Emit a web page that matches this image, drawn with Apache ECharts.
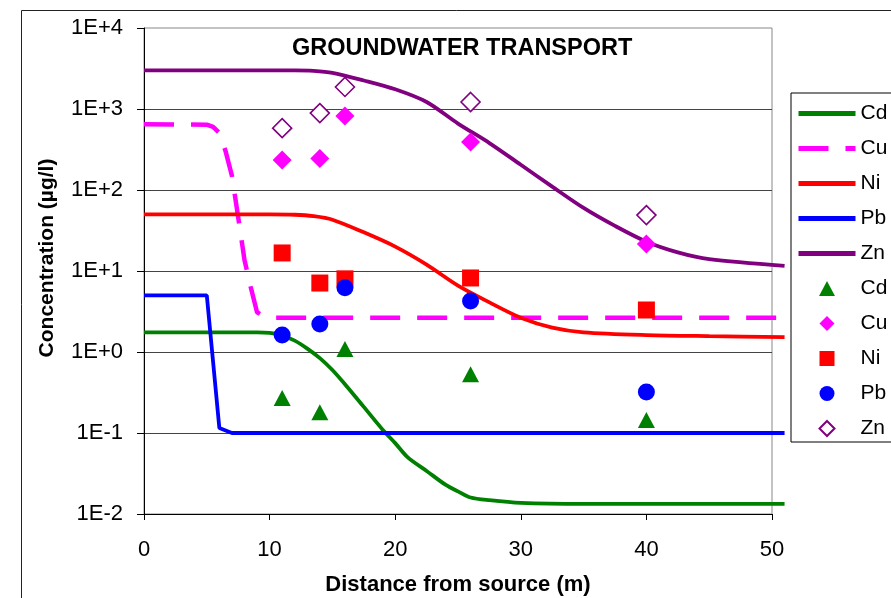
<!DOCTYPE html>
<html>
<head>
<meta charset="utf-8">
<script src="https://cdn.jsdelivr.net/npm/echarts@6/dist/echarts.min.js"></script>
<style>
html,body{margin:0;padding:0;background:#fff;}
#chart{width:891px;height:598px;}
</style>
</head>
<body>
<div id="chart"></div>
<script>
// ---- Data ----
var cdLineX = [0, 5, 9, 10, 11, 12, 13, 14, 15, 16, 17.5, 19, 20, 21, 22.5, 24, 25, 26, 27.5, 30, 35, 40, 45, 51];
var cdLineY = [1.75, 1.75, 1.75, 1.72, 1.6, 1.38, 1.1, 0.84, 0.6, 0.4, 0.21, 0.11, 0.075, 0.05, 0.034, 0.023, 0.019, 0.016, 0.0148, 0.0137, 0.0133, 0.0133, 0.0133, 0.0133];

var cuLineX = [0, 5, 5.5, 6, 6.5, 7, 7.5, 8, 8.5, 9, 9.5, 10, 51];
var cuLineY = [650, 640, 600, 505, 300, 150, 46, 13.7, 6.3, 3.1, 2.8, 2.65, 2.65];

var niLineX = [0, 5, 10, 12, 13.5, 15, 17.5, 20, 22.5, 25, 27.5, 30, 32.5, 35, 40, 45, 51];
var niLineY = [50, 50, 50, 49.5, 47.5, 43, 30, 20, 12, 6.6, 4.1, 2.65, 2.0, 1.75, 1.62, 1.57, 1.53];

var pbLineX = [0, 5, 6, 7, 51];
var pbLineY = [5, 5, 0.115, 0.1, 0.1];

var znLineX = [0, 5, 10, 12, 13.5, 15, 17.5, 20, 22.5, 25, 27.5, 30, 32.5, 35, 37.5, 40, 42.5, 45, 51];
var znLineY = [3000, 3000, 3000, 3000, 2960, 2800, 2250, 1750, 1220, 660, 380, 205, 110, 60, 36, 23, 17, 14, 11.6];

var obsX  = [11, 14, 16, 26, 40];
var cdObs = [0.27, 0.18, 1.09, 0.53, 0.145];
var cuObs = [235, 245, 820, 390, 21.5];
var niObs = [16.7, 7.1, 8.0, 8.2, 3.3];
var pbObs = [1.62, 2.22, 6.2, 4.27, 0.32];
var znObs = [580, 890, 1870, 1220, 49];

var metals = ['Cd', 'Cu', 'Ni', 'Pb', 'Zn'];
var xTicks = [0, 10, 20, 30, 40, 50];
var titleText = 'GROUNDWATER TRANSPORT';
var xTitle = 'Distance from source (m)';
var yTitle = 'Concentration (\u00b5g/l)';

// ---- Build chart ----
function pairs(xs, ys) { return xs.map(function (x, i) { return [x, ys[i]]; }); }

var FONT = 'Liberation Sans, Arial, sans-serif';
var colors = { Cd: '#008000', Cu: '#FF00FF', Ni: '#FF0000', Pb: '#0000FF', Zn: '#800080' };

function lineSeries(name, xs, ys, smooth, lineStyle) {
  return {
    name: name, type: 'line', data: pairs(xs, ys), symbol: 'none', showSymbol: false,
    xAxisIndex: 1, yAxisIndex: 1, smooth: smooth, z: 2,
    lineStyle: lineStyle || { color: colors[name], width: 3.8 }, itemStyle: { color: colors[name] },
    emphasis: { disabled: true }
  };
}
function scatterSeries(name, sym, size, ys, style) {
  style.opacity = 1;
  return {
    name: name + ' ', type: 'scatter', data: pairs(obsX, ys), symbol: sym, symbolSize: size,
    xAxisIndex: 0, yAxisIndex: 0, z: 5, itemStyle: style, emphasis: { disabled: true }
  };
}

var series = [
  lineSeries('Cd', cdLineX, cdLineY, 0.3),
  lineSeries('Cu', cuLineX, cuLineY, false, { color: colors.Cu, width: 4.5, type: [30, 17] }),
  lineSeries('Ni', niLineX, niLineY, 0.3),
  lineSeries('Pb', pbLineX, pbLineY, false),
  lineSeries('Zn', znLineX, znLineY, 0.3),
  scatterSeries('Cd', 'triangle', [17, 16], cdObs, { color: colors.Cd }),
  scatterSeries('Cu', 'diamond', 19, cuObs, { color: colors.Cu }),
  scatterSeries('Ni', 'rect', 17, niObs, { color: colors.Ni }),
  scatterSeries('Pb', 'circle', 17, pbObs, { color: colors.Pb }),
  scatterSeries('Zn', 'diamond', 19, znObs, { color: '#ffffff', borderColor: colors.Zn, borderWidth: 1.6 })
];

var legendIcons = {
  'Cd ': 'path://M8.5,0L17,16L0,16Z',
  'Cu ': 'path://M10,0L20,10L10,20L0,10Z',
  'Ni ': 'path://M0,0H10V10H0Z',
  'Pb ': 'circle',
  'Zn ': 'path://M10,0L20,10L10,20L0,10Z'
};
var legendData = metals.map(function (m) {
  var ls = { width: 5 };
  if (m === 'Cu') ls.type = [30, 17];
  return { name: m, itemStyle: { opacity: 0 }, lineStyle: ls };
}).concat(metals.map(function (m) {
  return { name: m + ' ', icon: legendIcons[m + ' '] };
}));

var PLOT_W = 628;
var chart = echarts.init(document.getElementById('chart'), null, { renderer: 'canvas' });
chart.setOption({
  animation: false,
  backgroundColor: '#ffffff',
  title: {
    text: titleText, left: 292, top: 37, padding: 0,
    textStyle: { fontFamily: FONT, fontWeight: 'bold', fontSize: 23.5, color: '#000' }
  },
  grid: [
    { left: 144, top: 28, width: PLOT_W, height: 486, show: true, borderColor: '#888', borderWidth: 1,
      containLabel: false, outerBoundsMode: 'none' },
    { left: 144, top: 28, width: PLOT_W * 51 / 50, height: 486, show: false,
      containLabel: false, outerBoundsMode: 'none' }
  ],
  legend: {
    data: legendData, orient: 'vertical', left: 791, top: 93,
    padding: [10, 40, 3, 5], itemWidth: 57, itemHeight: 15, itemGap: 14,
    borderColor: '#000', borderWidth: 1, selectedMode: false, symbolKeepAspect: true,
    formatter: function (n) { return n.trim(); },
    textStyle: { fontFamily: FONT, fontSize: 21, color: '#000', lineHeight: 21 }
  },
  xAxis: [{
    type: 'value', min: 0, max: 50, interval: 10, gridIndex: 0,
    name: xTitle, nameLocation: 'middle', nameGap: 60,
    nameTextStyle: { fontFamily: FONT, fontWeight: 'bold', fontSize: 22, color: '#000' },
    axisLine: { show: true, onZero: false, lineStyle: { color: '#000', width: 1 } },
    axisTick: { show: true, length: 6, lineStyle: { color: '#000' } },
    axisLabel: { fontFamily: FONT, fontSize: 22, color: '#000', margin: 25,
      formatter: function (v) { return xTicks.indexOf(v) >= 0 ? String(v) : ''; } },
    splitLine: { show: false }
  }, {
    type: 'value', min: 0, max: 51, gridIndex: 1, show: false
  }],
  yAxis: [{
    type: 'log', logBase: 10, min: 0.01, max: 10000, gridIndex: 0,
    name: yTitle, nameLocation: 'middle', nameGap: 86, nameRotate: 90,
    nameTextStyle: { fontFamily: FONT, fontWeight: 'bold', fontSize: 21, color: '#000', padding: [0, 0, 0, 26] },
    axisLine: { show: true, lineStyle: { color: '#000', width: 1 } },
    axisTick: { show: true, length: 7, lineStyle: { color: '#000' } },
    axisLabel: { fontFamily: FONT, fontSize: 22, color: '#000', margin: 21,
      formatter: function (v) {
        var e = Math.round(Math.log(v) / Math.LN10);
        return '1E' + (e >= 0 ? '+' : '-') + Math.abs(e);
      } },
    splitLine: { show: true, showMaxLine: false, lineStyle: { color: '#444', width: 1 } }
  }, {
    type: 'log', logBase: 10, min: 0.01, max: 10000, gridIndex: 1, show: false
  }],
  graphic: [{
    type: 'rect', left: 19, top: 8, silent: true, z: -10,
    shape: { x: 0.5, y: 0.5, width: 1000, height: 1000 },
    style: { fill: null, stroke: '#222', lineWidth: 1 }
  }],
  series: series
});
</script>
</body>
</html>
